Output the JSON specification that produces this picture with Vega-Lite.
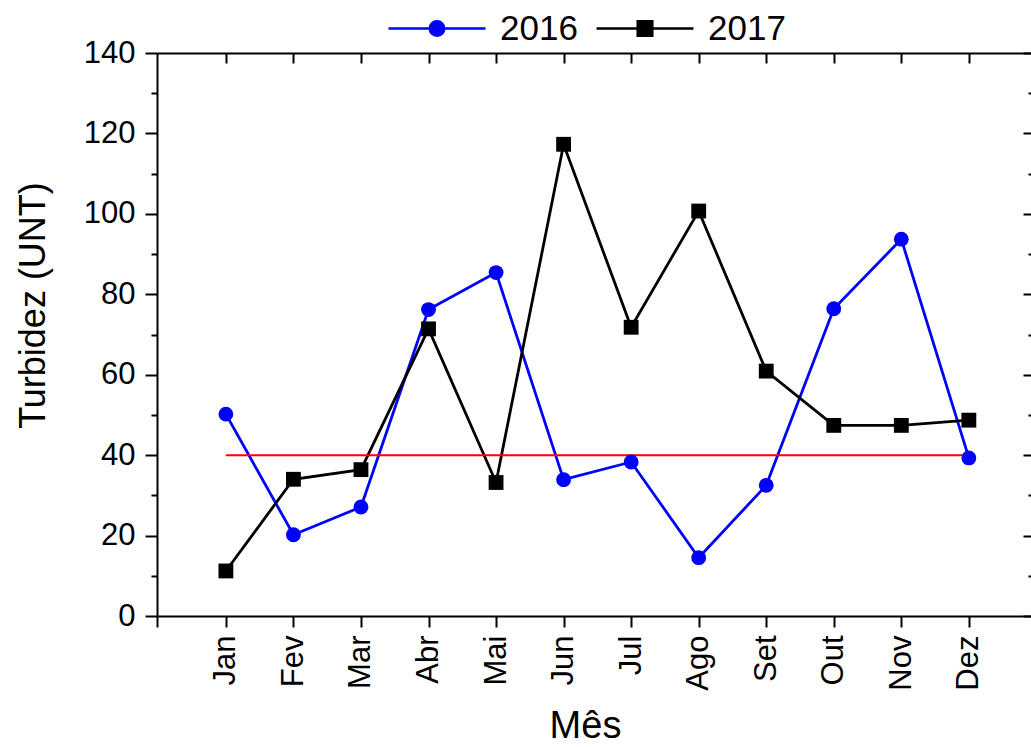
{
  "$schema": "https://vega.github.io/schema/vega-lite/v6.json",
  "width": 874,
  "height": 563,
  "autosize": {"type": "none"},
  "padding": {"left": 157, "top": 53, "right": 0, "bottom": 131},
  "background": "white",
  "config": {"view": {"stroke": null}, "font": "Liberation Sans"},
  "datasets": {
    "turb": [
      {"mes": 1, "ano": "2016", "turbidez": 50.2},
      {"mes": 2, "ano": "2016", "turbidez": 20.2},
      {"mes": 3, "ano": "2016", "turbidez": 27.1},
      {"mes": 4, "ano": "2016", "turbidez": 76.2},
      {"mes": 5, "ano": "2016", "turbidez": 85.4},
      {"mes": 6, "ano": "2016", "turbidez": 33.9},
      {"mes": 7, "ano": "2016", "turbidez": 38.3},
      {"mes": 8, "ano": "2016", "turbidez": 14.5},
      {"mes": 9, "ano": "2016", "turbidez": 32.5},
      {"mes": 10, "ano": "2016", "turbidez": 76.4},
      {"mes": 11, "ano": "2016", "turbidez": 93.7},
      {"mes": 12, "ano": "2016", "turbidez": 39.3},
      {"mes": 1, "ano": "2017", "turbidez": 11.2},
      {"mes": 2, "ano": "2017", "turbidez": 34.0},
      {"mes": 3, "ano": "2017", "turbidez": 36.4},
      {"mes": 4, "ano": "2017", "turbidez": 71.4},
      {"mes": 5, "ano": "2017", "turbidez": 33.2},
      {"mes": 6, "ano": "2017", "turbidez": 117.3},
      {"mes": 7, "ano": "2017", "turbidez": 71.8},
      {"mes": 8, "ano": "2017", "turbidez": 100.7},
      {"mes": 9, "ano": "2017", "turbidez": 60.9},
      {"mes": 10, "ano": "2017", "turbidez": 47.4},
      {"mes": 11, "ano": "2017", "turbidez": 47.4},
      {"mes": 12, "ano": "2017", "turbidez": 48.7}
    ],
    "ref": [
      {"mes": 1, "turbidez": 40},
      {"mes": 12, "turbidez": 40}
    ]
  },
  "layer": [
    {
      "data": {"name": "turb"},
      "mark": {"type": "line", "strokeWidth": 2.8},
      "encoding": {
        "x": {
          "field": "mes", "type": "quantitative",
          "scale": {"domain": [-0.02, 12.92], "nice": false, "zero": false},
          "axis": {
            "title": "Mês",
            "values": [-0.02, 1, 2, 3, 4, 5, 6, 7, 8, 9, 10, 11, 12],
            "labelExpr": "datum.value < 0.5 ? '' : ['Jan','Fev','Mar','Abr','Mai','Jun','Jul','Ago','Set','Out','Nov','Dez'][round(datum.value) - 1]",
            "labelAngle": -90, "labelAlign": "right", "labelBaseline": "middle",
            "labelFontSize": 31, "labelPadding": 8, "labelColor": "black",
            "labelFlush": false, "labelOverlap": false,
            "tickSize": 11, "tickWidth": 2, "tickColor": "black",
            "domainColor": "black", "domainWidth": 2, "grid": false,
            "titleFontSize": 38, "titleFontWeight": "normal", "titleColor": "black",
            "titleX": 428, "titleY": 121, "titleBaseline": "alphabetic", "titleAlign": "center"
          }
        },
        "y": {
          "field": "turbidez", "type": "quantitative",
          "scale": {"domain": [0, 140], "nice": false},
          "axis": {
            "title": "Turbidez (UNT)",
            "values": [0, 10, 20, 30, 40, 50, 60, 70, 80, 90, 100, 110, 120, 130, 140],
            "labelExpr": "datum.value % 20 === 0 ? datum.label : ''",
            "labelFontSize": 31, "labelPadding": 10, "labelColor": "black",
            "labelFlush": false, "labelOverlap": false,
            "tickSize": {"condition": {"test": "datum.value % 20 === 0", "value": 12}, "value": 6},
            "tickWidth": 2, "tickColor": "black",
            "domainColor": "black", "domainWidth": 2, "grid": false,
            "titleFontSize": 36, "titleFontWeight": "normal", "titleColor": "black",
            "titleX": -124, "titleY": 252, "titleAngle": -90, "titleBaseline": "middle", "titleAlign": "center"
          }
        },
        "color": {
          "field": "ano", "type": "nominal",
          "scale": {"domain": ["2016", "2017"], "range": ["#0000ff", "#000000"]},
          "legend": {
            "orient": "none", "legendX": 230, "legendY": -74.5,
            "direction": "horizontal", "title": null,
            "symbolSize": 9409, "symbolStrokeWidth": 2,
            "labelFontSize": 35, "labelFont": "Liberation Sans", "labelColor": "black",
            "labelOffset": 13, "columnPadding": 13, "padding": 0, "labelBaseline": "middle",
            "encode": {
              "symbols": {
                "update": {
                  "shape": {"signal": "datum.value === '2016' ? 'M-1,0H1M-0.15,0A0.15,0.15,0,1,0,0.15,0A0.15,0.15,0,1,0,-0.15,0Z' : 'M-1,0H1M-0.15,-0.15H0.15V0.15H-0.15Z'"},
                  "fill": {"signal": "datum.value === '2016' ? '#0000ff' : '#000000'"},
                  "stroke": {"signal": "datum.value === '2016' ? '#0000ff' : '#000000'"},
                  "strokeWidth": {"value": 2.5},
                  "opacity": {"value": 1},
                  "fillOpacity": {"value": 1}
                }
              }
            }
          }
        }
      }
    },
    {
      "data": {"name": "ref"},
      "mark": {"type": "line", "color": "#ff0000", "strokeWidth": 2},
      "encoding": {
        "x": {
          "field": "mes", "type": "quantitative",
          "axis": {
            "orient": "top", "title": null, "labels": false,
            "values": [1, 2, 3, 4, 5, 6, 7, 8, 9, 10, 11, 12],
            "tickSize": -10, "tickWidth": 2, "tickColor": "black",
            "domainColor": "black", "domainWidth": 2, "grid": false
          }
        },
        "y": {
          "field": "turbidez", "type": "quantitative",
          "axis": {
            "orient": "right", "title": null, "labels": false, "domain": false,
            "values": [0, 10, 20, 30, 40, 50, 60, 70, 80, 90, 100, 110, 120, 130, 140],
            "tickSize": {"condition": {"test": "datum.value % 20 === 0", "value": -8}, "value": -3},
            "tickWidth": 2, "tickColor": "black", "grid": false
          }
        }
      }
    },
    {
      "data": {"name": "turb"},
      "transform": [{"filter": "datum.ano === '2016'"}],
      "mark": {"type": "point", "shape": "circle", "filled": true, "opacity": 1, "size": 220},
      "encoding": {
        "x": {"field": "mes", "type": "quantitative", "axis": null},
        "y": {"field": "turbidez", "type": "quantitative", "axis": null},
        "color": {"field": "ano", "type": "nominal"}
      }
    },
    {
      "data": {"name": "turb"},
      "transform": [{"filter": "datum.ano === '2017'"}],
      "mark": {"type": "point", "shape": "square", "filled": true, "opacity": 1, "size": 220},
      "encoding": {
        "x": {"field": "mes", "type": "quantitative", "axis": null},
        "y": {"field": "turbidez", "type": "quantitative", "axis": null},
        "color": {"field": "ano", "type": "nominal"}
      }
    }
  ],
  "resolve": {"axis": {"x": "independent", "y": "independent"}}
}
